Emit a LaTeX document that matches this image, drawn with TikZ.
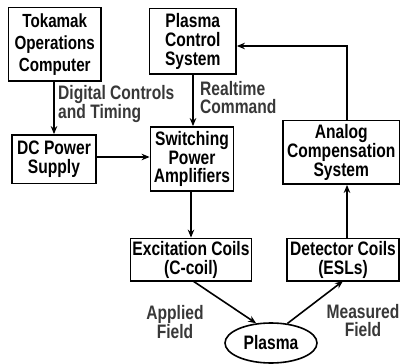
\documentclass[tikz,border=0pt]{standalone}
\usepackage{fontspec}
\setmainfont{Liberation Sans}[FakeStretch=0.8]
\usetikzlibrary{arrows.meta,shapes.geometric}
\begin{document}
\begin{tikzpicture}[x=1pt,y=-1pt,
  box/.style={draw,line width=1.8pt,inner sep=0pt,align=center,font=\bfseries\fontsize{19.5}{18.8}\selectfont},
  lbl/.style={inner sep=0pt,text=black!78,font=\bfseries\fontsize{19.5}{18.5}\selectfont},
  arr/.style={line width=1.6pt,-{Stealth[length=8pt,width=6.5pt]}}]
\useasboundingbox (0,0) rectangle (402,364);
\node[box,minimum width=92.5pt,minimum height=73.5pt,font=\bfseries\fontsize{19}{22}\selectfont] (tok) at (54.75,44.25) {Tokamak\\Operations\\Computer};
\node[box,minimum width=86.5pt,minimum height=65.5pt] (pcs) at (192.75,41.25) {Plasma\\Control\\System};
\node[box,minimum width=84pt,minimum height=48.5pt] (dc) at (54,159.25) {DC Power\\Supply};
\node[box,minimum width=83pt,minimum height=64pt] (spa) at (192,159) {Switching\\Power\\Amplifiers};
\node[box,minimum width=116.5pt,minimum height=63.5pt] (acs) at (341.25,152.25) {Analog\\Compensation\\System};
\node[box,minimum width=121pt,minimum height=42.5pt] (exc) at (191,259.75) {Excitation Coils\\(C-coil)};
\node[box,minimum width=112pt,minimum height=42.5pt] (det) at (343,259.75) {Detector Coils\\(ESLs)};
\node[draw,ellipse,line width=1.6pt,minimum width=92pt,minimum height=40pt,inner sep=0pt,font=\bfseries\fontsize{19.5}{18.5}\selectfont] (pl) at (271,343) {Plasma};
\node[lbl,anchor=west,align=left] (l1) at (58,104) {Digital Controls\\and Timing};
\node[lbl,anchor=west,align=left] (l2) at (200,97.5) {Realtime\\Command};
\node[lbl,align=center] (l3) at (175,322) {Applied\\Field};
\node[lbl,align=center] (l4) at (363,320.5) {Measured\\Field};
\coordinate (a1) at (54,0);
\draw[arr] (tok.south -| a1) -- (dc.north -| a1);
\coordinate (a2) at (193,0);
\draw[arr] (pcs.south -| a2) -- (spa.north -| a2);
\coordinate (a3) at (0,157);
\draw[arr] (dc.east |- a3) -- (spa.west |- a3);
\coordinate (a5) at (191,0);
\draw[arr] (spa.south -| a5) -- (exc.north -| a5);
\coordinate (a4) at (347,46);
\draw[arr] (det.north -| a4) -- (acs.south -| a4);
\draw[arr] (acs.north -| a4) -- (a4) -- (pcs.east |- a4);
\coordinate (e1) at (193,281);
\coordinate (e2) at (343,281);
\draw[arr] (e1) -- (pl.127);
\draw[arr] (pl.50) -- (e2);
\end{tikzpicture}
\end{document}
